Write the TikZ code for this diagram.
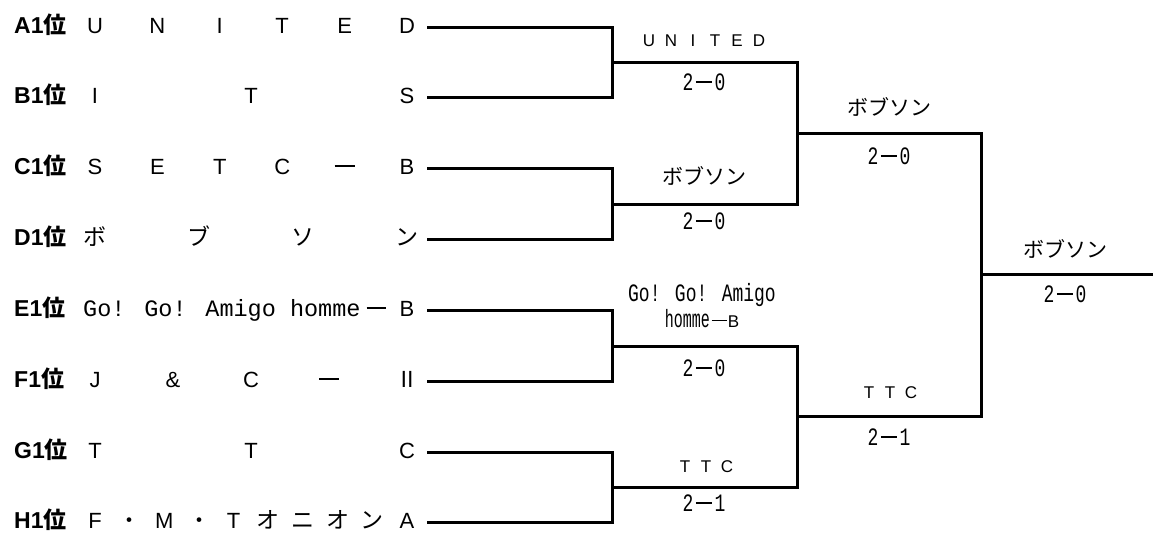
\documentclass[tikz,border=0pt]{standalone}
\usepackage{graphicx}
\usepackage{fontspec}
\newfontfamily\jp{Noto Sans CJK JP}
\newfontfamily\lat{Liberation Sans}
\newfontfamily\monofnt{Liberation Mono}
\newcommand\zdash{\kern0.05em\rule[0.34em]{0.9em}{0.09em}\kern0.05em}
\newcommand\sdash{\rule[0.36em]{0.85em}{0.11em}}
\newcommand\gm[1]{\scalebox{0.72}[1]{\monofnt\fontsize{25}{26}\selectfont #1}}
\newcommand\gmn[1]{\scalebox{0.6}[1]{\monofnt\fontsize{25}{26}\selectfont #1}}
\newcommand\score[2]{\gm{#1}\kern2.5pt{\fontsize{19}{22}\selectfont\sdash}\kern2.5pt\gm{#2}}
\newcommand\spaced[2]{\makebox[#1]{\lat\fontsize{17}{18}\selectfont #2}}
\newcommand\jpc[1]{{\jp\fontsize{23}{26}\selectfont #1}}
\newcommand\teamrow[5]{%
  \foreach \c [count=\i from 0] in {#5} {\node[teamch] (#1-\i) at ({95+\i*312/#3}, {#2+6}) {#4\c};}%
}
\begin{document}
\begin{tikzpicture}[x=1pt,y=-1pt,
  br/.style={line width=3pt, line join=miter},
  rowlab/.style={anchor=base west, inner sep=0, font=\fontsize{23}{26}\selectfont},
  teamch/.style={anchor=base, inner sep=0, font=\fontsize{22}{24}\selectfont},
  win/.style={anchor=base, inner sep=0, font=\jp\fontsize{21}{23}\selectfont}]
\fill[white] (0,0) rectangle (1155,535);
\useasboundingbox (0,0) rectangle (1155,535);

% row y positions
\def\yA{27.5}\def\yB{97.5}\def\yC{168.5}\def\yD{239.5}
\def\yE{310.5}\def\yF{381.5}\def\yG{452.5}\def\yH{522.5}

% row labels
\node[rowlab] (lA) at (14,\yA+6) {{\lat\bfseries A1}{\jp\bfseries 位}};
\node[rowlab] (lB) at (14,\yB+6) {{\lat\bfseries B1}{\jp\bfseries 位}};
\node[rowlab] (lC) at (14,\yC+6) {{\lat\bfseries C1}{\jp\bfseries 位}};
\node[rowlab] (lD) at (14,\yD+6) {{\lat\bfseries D1}{\jp\bfseries 位}};
\node[rowlab] (lE) at (14,\yE+6) {{\lat\bfseries E1}{\jp\bfseries 位}};
\node[rowlab] (lF) at (14,\yF+6) {{\lat\bfseries F1}{\jp\bfseries 位}};
\node[rowlab] (lG) at (14,\yG+6) {{\lat\bfseries G1}{\jp\bfseries 位}};
\node[rowlab] (lH) at (14,\yH+6) {{\lat\bfseries H1}{\jp\bfseries 位}};

% team names
\teamrow{A}{\yA}{5}{\lat}{U,N,I,T,E,D}
\teamrow{B}{\yB}{2}{\lat}{I,T,S}
\teamrow{C}{\yC}{5}{\lat}{S,E,T,C,\zdash,B}
\teamrow{D}{\yD}{3}{\jpc}{ボ,ブ,ソ,ン}
\node[anchor=base west, inner sep=0, font=\monofnt\fontsize{23.5}{26}\selectfont] (E-0) at (83,\yE+6) {Go! Go! Amigo homme};
\node[teamch] (E-1) at (376.5,\yE+6) {\zdash};
\node[teamch] (E-2) at (407,\yE+6) {\lat B};
\teamrow{F}{\yF}{4}{\lat}{J,\&,C,\zdash,{\jp Ⅱ}}
\teamrow{G}{\yG}{2}{\lat}{T,T,C}
\teamrow{H}{\yH}{9}{\lat}{F,{\jp ・},M,{\jp ・},T,{\jpc{オ}},{\jpc{ニ}},{\jpc{オ}},{\jpc{ン}},A}

% line start points
\coordinate (sA) at (427,\yA);
\coordinate (sB) at (427,\yB);
\coordinate (sC) at (427,\yC);
\coordinate (sD) at (427,\yD);
\coordinate (sE) at (427,\yE);
\coordinate (sF) at (427,\yF);
\coordinate (sG) at (427,\yG);
\coordinate (sH) at (427,\yH);

% junctions
\coordinate (q1) at (612.5,62.5);
\coordinate (q2) at (612.5,204.5);
\coordinate (q3) at (612.5,346.5);
\coordinate (q4) at (612.5,487.5);
\coordinate (s1) at (797.5,133.5);
\coordinate (s2) at (797.5,416.5);
\coordinate (fm) at (981.5,274.5);
\coordinate (fend) at (1153,274.5);

% brackets
\draw[br] (sA) -| (q1) |- (sB);
\draw[br] (sC) -| (q2) |- (sD);
\draw[br] (sE) -| (q3) |- (sF);
\draw[br] (sG) -| (q4) |- (sH);
\draw[br] (q1) -| (s1) |- (q2);
\draw[br] (q3) -| (s2) |- (q4);
\draw[br] (s1) -| (fm) |- (s2);
\draw[br] (fm) -- (fend);

% winner labels
\node[win] (w1) at (704,47) {\spaced{22pt}{U}\spaced{22pt}{N}\spaced{22pt}{I}\spaced{22pt}{T}\spaced{22pt}{E}\spaced{22pt}{D}};
\node[win] (r1) at (704,90) {\score{2}{0}};
\node[win] (w2) at (704,184) {ボブソン};
\node[win] (r2) at (704,229) {\score{2}{0}};
\node[win] (w3a) at (702,301) {\gm{Go! Go! Amigo}};
\node[win] (w3b) at (702,327) {\gmn{homme}\kern1pt{\fontsize{17}{18}\selectfont\zdash\lat B}};
\node[win] (r3) at (704,376) {\score{2}{0}};
\node[win] (w4) at (706,472) {\spaced{21pt}{T}\spaced{21pt}{T}\spaced{21pt}{C}};
\node[win] (r4) at (704,511) {\score{2}{1}};
\node[win] (w5) at (889,115) {ボブソン};
\node[win] (r5) at (889,164) {\score{2}{0}};
\node[win] (w6) at (890,398) {\spaced{21pt}{T}\spaced{21pt}{T}\spaced{21pt}{C}};
\node[win] (r6) at (889,445) {\score{2}{1}};
\node[win] (w7) at (1065,257) {ボブソン};
\node[win] (r7) at (1065,302) {\score{2}{0}};
\end{tikzpicture}
\end{document}
